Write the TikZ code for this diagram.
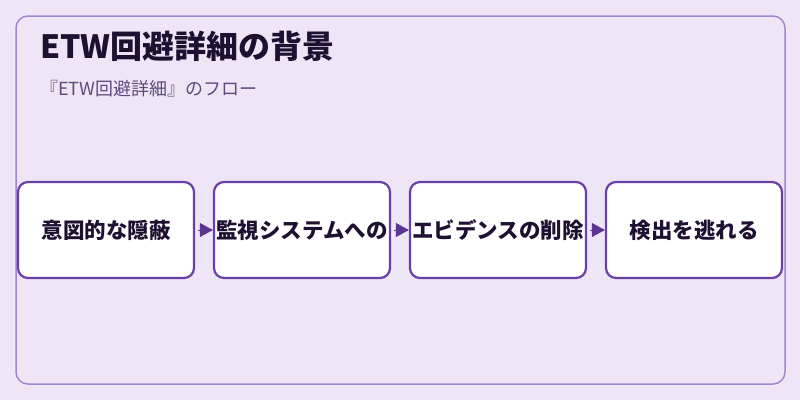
\documentclass[tikz,border=0pt]{standalone}
\usepackage{fontspec}
\setmainfont{Noto Sans CJK JP}
\usetikzlibrary{positioning,arrows.meta}

\definecolor{bgcol}{HTML}{EEE6F6}
\definecolor{framecol}{HTML}{A087D2}
\definecolor{boxcol}{HTML}{6A40A6}
\definecolor{arrowcol}{HTML}{5B3690}
\definecolor{titlecol}{HTML}{1E1030}
\definecolor{subcol}{HTML}{5C4B7E}

\tikzset{
  flowbox/.style={draw=boxcol, line width=2.2pt, fill=white, rounded corners=10pt,
    minimum width=176pt, minimum height=96pt, inner sep=0pt,
    font=\fontsize{21.5}{24}\selectfont\bfseries, text=titlecol},
  flowarrow/.style={-{Triangle[length=13pt,width=14pt]}, draw=arrowcol, fill=arrowcol,
    line width=0.6pt, shorten <=3pt}
}

\begin{document}
\begin{tikzpicture}[x=1pt, y=-1pt, every node/.style={inner sep=0pt}]

    \useasboundingbox[fill=bgcol] (0,0) rectangle (800,400);
    \draw[framecol, line width=1.5pt, rounded corners=12pt] (16,16) rectangle (785,384);

    % Title and subtitle
    \node[anchor=base west, font=\fontsize{32}{35}\selectfont\bfseries, text=titlecol] (title) at (40,58) {ETW回避詳細の背景};
    \node[anchor=base west, font=\fontsize{18}{21}\selectfont, text=subcol] (subtitle) at (40,95) {『ETW回避詳細』のフロー};

    % Flow boxes
    \node[flowbox] (hide) at (106,230) {意図的な隠蔽};
    \node[flowbox, right=17.8pt of hide] (monitor) {監視システムへの};
    \node[flowbox, right=17.8pt of monitor] (erase) {エビデンスの削除};
    \node[flowbox, right=17.8pt of erase] (evade) {検出を逃れる};

    \draw[flowarrow] (hide) -- (monitor);
    \draw[flowarrow] (monitor) -- (erase);
    \draw[flowarrow] (erase) -- (evade);

\end{tikzpicture}
\end{document}
